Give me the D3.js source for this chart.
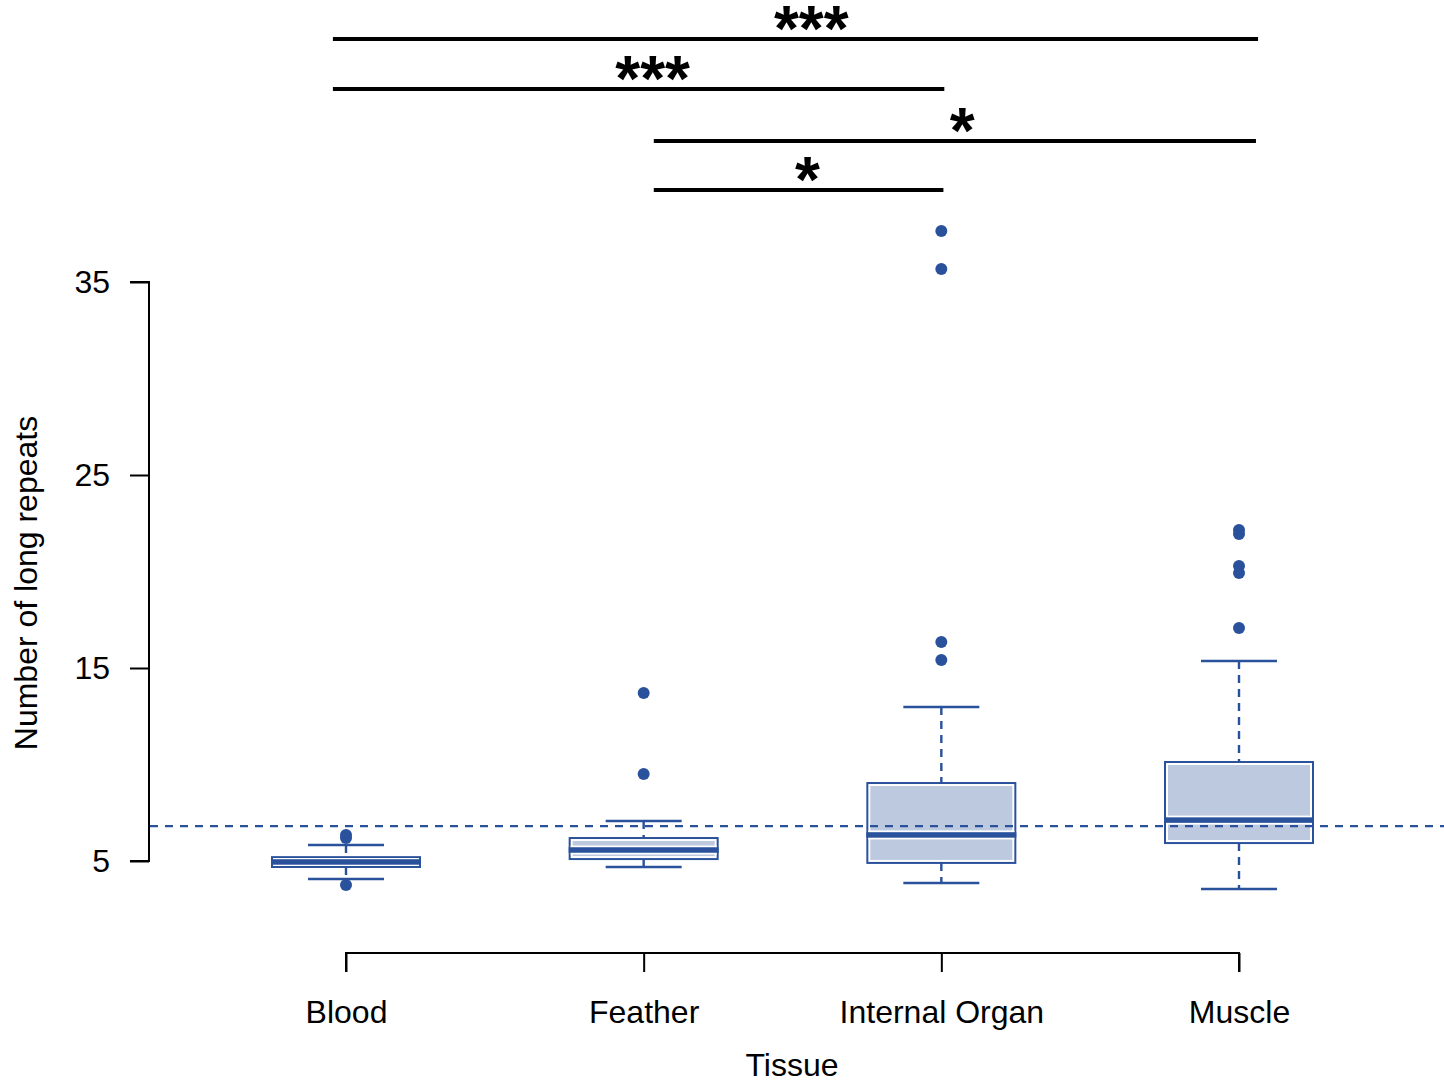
<!DOCTYPE html>
<html>
<head>
<meta charset="utf-8">
<script src="https://cdn.jsdelivr.net/npm/d3@7"></script>
<style>
  html, body { margin: 0; padding: 0; background: #fff; }
  svg { display: block; font-family: "Liberation Sans", Arial, sans-serif; }
</style>
</head>
<body>
<svg id="chart" width="1444" height="1082"></svg>
<script>
// ---- data ----
const categories = ["Blood", "Feather", "Internal Organ", "Muscle"];
const q1Values = [4.69, 5.10, 4.90, 5.93];
const medianValues = [4.95, 5.57, 6.35, 7.12];
const q3Values = [5.20, 6.19, 9.04, 10.13];
const whiskerLow = [4.07, 4.69, 3.86, 3.55];
const whiskerHigh = [5.83, 7.07, 12.98, 15.36];
const outlierValues = [
  [6.35, 6.19, 3.76],
  [13.70, 9.51],
  [37.64, 35.67, 16.35, 15.41],
  [22.15, 21.94, 20.28, 19.92, 17.07]
];
const referenceValue = 6.81;
const yTickValues = [5, 15, 25, 35];
// significance brackets: start/end in category-index units, level in data units
const sigStart = [-0.044, -0.044, 1.034, 1.034];
const sigEnd = [3.064, 2.01, 3.057, 2.007];
const sigLevel = [47.59, 45.0, 42.3, 39.77];
const sigLabelPos = [1.563, 1.03, 2.07, 1.55];
const sigLabels = ["***", "***", "*", "*"];
const xTitle = "Tissue";
const yTitle = "Number of long repeats";

// ---- layout ----
const svg = d3.select("#chart");
const blue = "#2a519c";
const fillC = "#bdc9de";

const y = d3.scaleLinear().domain([5, 35]).range([861, 282]);
const xi = d3.scaleLinear().domain([0, 3]).range([346, 1239]);
const boxHalf = 75, capHalf = 38;

// y axis
const yAxis = d3.axisLeft(y).tickValues(yTickValues).tickSize(19).tickPadding(20).tickFormat(d3.format("d"));
const gy = svg.append("g").attr("transform", "translate(149,0)").call(yAxis);
gy.select(".domain").attr("stroke", "#000").attr("stroke-width", 2).attr("d", `M-19,${y(35)}H0V${y(5)}H-19`);
gy.selectAll(".tick line").attr("stroke", "#000").attr("stroke-width", 2);
gy.selectAll(".tick text").attr("font-size", 32).attr("fill", "#000").attr("font-family", "Liberation Sans, Arial, sans-serif");

// x axis
const xAxis = d3.axisBottom(d3.scalePoint().domain(categories).range([346, 1239])).tickSize(19).tickPadding(28);
const gx = svg.append("g").attr("transform", "translate(0,953)").call(xAxis);
gx.select(".domain").attr("stroke", "#000").attr("stroke-width", 2).attr("d", `M346,19V0H1239V19`);
gx.selectAll(".tick line").attr("stroke", "#000").attr("stroke-width", 2);
gx.selectAll(".tick text").attr("font-size", 32).attr("fill", "#000").attr("font-family", "Liberation Sans, Arial, sans-serif");

// titles
svg.append("text").attr("x", 792).attr("y", 1076).attr("text-anchor", "middle").attr("font-size", 32).text(xTitle);
svg.append("text").attr("transform", "translate(37,583) rotate(-90)").attr("text-anchor", "middle").attr("font-size", 32).text(yTitle);

// boxes
const boxes = svg.append("g");
categories.forEach((c, i) => {
  const cx = xi(i);
  const g = boxes.append("g");
  const top = y(q3Values[i]), bot = y(q1Values[i]), med = y(medianValues[i]);
  // whiskers (dashed)
  g.append("line").attr("x1", cx).attr("x2", cx).attr("y1", y(whiskerHigh[i])).attr("y2", top)
    .attr("stroke", blue).attr("stroke-width", 2.4).attr("stroke-dasharray", "8,6");
  g.append("line").attr("x1", cx).attr("x2", cx).attr("y1", bot).attr("y2", y(whiskerLow[i]))
    .attr("stroke", blue).attr("stroke-width", 2.4).attr("stroke-dasharray", "8,6");
  // caps
  [whiskerHigh[i], whiskerLow[i]].forEach(v => {
    g.append("line").attr("x1", cx - capHalf).attr("x2", cx + capHalf).attr("y1", y(v)).attr("y2", y(v))
      .attr("stroke", blue).attr("stroke-width", 2.5);
  });
  // box: blue border, white inner, fill
  g.append("rect").attr("x", cx - boxHalf).attr("y", top - 1).attr("width", 2 * boxHalf).attr("height", bot - top + 2).attr("fill", blue);
  g.append("rect").attr("x", cx - boxHalf + 2).attr("y", top + 1).attr("width", 2 * boxHalf - 4).attr("height", Math.max(0, bot - top - 2)).attr("fill", "#fff");
  if (bot - top > 8) {
    g.append("rect").attr("x", cx - boxHalf + 4).attr("y", top + 3).attr("width", 2 * boxHalf - 8).attr("height", bot - top - 6).attr("fill", fillC);
  }
  // median
  const wTop = Math.max(top + 1, med - 4.5), wBot = Math.min(bot - 1, med + 4.5);
  g.append("rect").attr("x", cx - boxHalf + 2).attr("y", wTop).attr("width", 2 * boxHalf - 4).attr("height", wBot - wTop).attr("fill", "#fff");
  g.append("rect").attr("x", cx - boxHalf).attr("y", med - 2.75).attr("width", 2 * boxHalf).attr("height", 5.5).attr("fill", blue);
  // outliers
  g.selectAll("circle").data(outlierValues[i]).enter().append("circle")
    .attr("cx", cx).attr("cy", d => y(d)).attr("r", 6).attr("fill", blue);
});

// reference line
svg.append("line").attr("x1", 150).attr("x2", 1444).attr("y1", y(referenceValue)).attr("y2", y(referenceValue))
  .attr("stroke", blue).attr("stroke-width", 2.2).attr("stroke-dasharray", "8,7");

// significance brackets
const sig = svg.append("g");
sigLabels.forEach((lab, i) => {
  const ly = y(sigLevel[i]);
  sig.append("line").attr("x1", xi(sigStart[i])).attr("x2", xi(sigEnd[i])).attr("y1", ly).attr("y2", ly)
    .attr("stroke", "#000").attr("stroke-width", 4);
  sig.append("text").attr("x", xi(sigLabelPos[i])).attr("y", ly + 12).attr("text-anchor", "middle")
    .attr("font-size", 64).attr("font-weight", "bold").attr("font-family", "Liberation Sans, Arial, sans-serif").text(lab);
});
</script>
</body>
</html>
